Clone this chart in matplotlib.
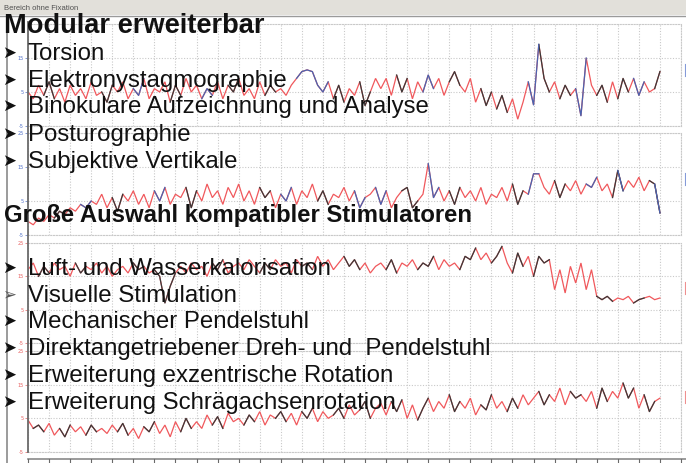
import numpy as np
import matplotlib
matplotlib.use("Agg")
import matplotlib.pyplot as plt
from matplotlib.lines import Line2D
from matplotlib.patches import Rectangle

# ---------------- data ----------------
window_title = "Bereich ohne Fixation"
heading_1 = "Modular erweiterbar"
items_1 = ["Torsion", "Elektronystagmographie", "Binokulare Aufzeichnung und Analyse",
           "Posturographie", "Subjektive Vertikale"]
heading_2 = "Große Auswahl kompatibler Stimulatoren"
items_2 = ["Luft- und Wasserkalorisation", "Visuelle Stimulation", "Mechanischer Pendelstuhl",
           "Direktangetriebener Dreh- und  Pendelstuhl", "Erweiterung exzentrische Rotation",
           "Erweiterung Schrägachsenrotation"]

y_ticks = [-5, 5, 15, 25]
y_ticks_first = [-5, 5, 15]
x_step = 0.25

panel1 = ([5, 3, 7, 4, 8, 3, 6, 2, 7, 4, 6, 3, 8, 4, 5, 2, 7, 5, 8, 3, 6, 4, 9, 3, 6, 5, 8, 2, 7, 4,
           9, 5, 7, 3, 6, 4, 8, 3, 7, 5, 9, 4, 6, 3, 8, 4, 7, 5, 6, 4, 7]
          + [9, 11, 11.5, 11, 7, 5]
          + [8, 3, 7, 2, 6, 4, 8, 1, 5, 9]
          + [6, 9, 4, 10, 5, 9, 3, 8, 5, 10, 6, 9, 4, 8, 11, 7, 5, 9, 2]
          + [6, 1, 5, 0, 4, -1, 3, -3, 2, 8]
          + [1.2, 19, 9]
          + [5, 8, 3, 7, 4, 6, -2]
          + [15, 7, 4]
          + [7, 2, 8, 3, 9, 5, 9, 4, 8, 5, 6, 11])
panel2 = ([-1, -2, 0, -1, 1, 0, 2, 1, 3, 2, 4, 3, 5]
          + [4, 7, 3, 6, 2, 7, 5, 8, 4, 7, 3, 8, 5, 9, 4, 7, 6, 9, 3, 8, 5, 10, 6, 8, 4, 9, 6, 10]
          + [5, 8, 4, 9, 6, 8, 3, 7, 5, 9, 4, 8, 6, 10, 5, 8, 4, 7, 6, 9, 5, 8, 3, 6, 7, 9, 4, 8,
             3, 6, 8, 9]
          + [3, 5, 7, 16]
          + [6, 9, 5, 8, 4, 9, 6, 8, 5, 9, 4, 7, 6, 9, 5, 10, 4, 8, 7]
          + [13, 13]
          + [9, 7, 11, 6, 10, 8, 11, 7, 10, 9, 12, 8, 10, 6]
          + [14, 8]
          + [11, 9, 12, 8, 11, 10]
          + [1.5])
panel3 = ([17, 19, 15, 18, 16, 19, 17, 18, 15, 19, 16, 18, 17, 19, 16, 18, 15, 17, 18, 16, 19, 17,
           18, 16, 17]
          + [15, 7, 12, 16]
          + [18, 16, 19, 17, 18, 15, 19, 17, 20, 16, 18, 19, 17, 20, 18, 16, 19, 17, 20, 18, 19, 16,
             20, 18, 19, 17, 21, 18, 20, 17, 19, 21, 18, 20, 17, 19, 16, 18]
          + [19, 17, 20, 16, 19, 18, 20, 17, 19, 18, 21, 17, 20, 18, 19, 17, 21, 20]
          + [23.5, 20, 22, 19, 21, 24, 19, 16, 22, 18, 21]
          + [15, 21, 19]
          + [20, 11, 17, 10, 18, 13, 19, 11, 17]
          + [9]
          + [8, 9, 7.5, 8.5, 8, 9, 7, 8, 8.5, 9, 8, 8.5])
panel4 = ([4.5, 2, 3, 1, 3.5, 0, 2, -0.5, 3, 1, 2.5, 0, 3, 1, 2, 0.5, 3]
          + [1, 3.5, 0, 2, -1, 2.5, 1, 4, 0.5, 3, -0.5, 4, 1, 5, 2, 4]
          + [2, 6, 3, 5.5, 2, 6.5, 4, 5, 3, 6, 4, 7, 3, 6, 5, 7]
          + [4, 6.5, 3, 7, 5, 8, 4, 7, 5, 6, 8, 5, 9, 6, 7.5, 10, 5, 8]
          + [9.5, 6, 10, 7, 10.5, 5, 9, 4.5, 8, 11, 7, 10, 8]
          + [12, 7, 10, 8, 11, 6, 9, 7.5, 12, 8, 10, 7, 11, 8, 12, 9, 11]
          + [13, 9, 12, 10, 14, 9, 13, 11, 12, 10, 13, 8, 14, 10, 13, 11]
          + [15.5, 11, 14, 8, 12, 7, 10, 11])

# index ranges of the trace drawn in dark grey / blue instead of red
p1_dark = [(3, 5), (14, 16), (27, 29), (38, 40), (45, 47), (58, 60), (63, 65), (70, 72), (80, 82),
           (86, 88), (89, 91), (97, 99), (101, 103), (108, 110), (112, 114), (119, 121)]
p1_blue = [(20, 22), (33, 35), (51, 57), (75, 77), (95, 97), (104, 106), (115, 117)]
p2_dark = [(5, 7), (16, 18), (30, 32), (44, 46), (55, 57), (71, 74), (80, 82), (92, 94),
           (100, 102), (111, 113), (118, 120)]
p2_blue = [(10, 12), (24, 26), (48, 50), (62, 64), (66, 68), (76, 78), (95, 97), (106, 108),
           (112, 113), (119, 121)]
p3_dark = [(2, 4), (9, 11), (20, 22), (24, 28), (35, 37), (44, 46), (52, 54), (60, 63), (68, 70),
           (74, 77), (82, 85), (88, 90), (92, 94), (96, 99), (108, 111), (115, 117)]
p3_blue = []
p4_dark = [(1, 3), (6, 8), (11, 13), (17, 19), (22, 24), (29, 31), (35, 37), (41, 43), (47, 49),
           (52, 54), (58, 60), (63, 65), (69, 71), (74, 76), (80, 82), (86, 88), (91, 93), (97, 99),
           (103, 105), (108, 110), (113, 115), (117, 119)]
p4_blue = []

# ---------------- figure ----------------
W, H = 686, 463
fig = plt.figure(figsize=(W / 100, H / 100), dpi=100)
fig.patch.set_facecolor("white")

def fx(px):
    return px / W

def fy(py):
    return 1 - py / H

RED = "#f0585c"
DARK = "#3a3a3a"
BLUE = "#4a64b0"
GRID = "#c9c9c9"

panels = [
    (panel1, p1_dark, p1_blue, 24, 126, "#5070c8", y_ticks_first),
    (panel2, p2_dark, p2_blue, 133, 235, "#5070c8", y_ticks),
    (panel3, p3_dark, p3_blue, 243, 343, "#e86060", y_ticks),
    (panel4, p4_dark, p4_blue, 351, 452, "#e86060", y_ticks),
]
left_px, right_px = 28, 681
for vals, dark, blue, top, bot, tcol, ticks in panels:
    ax = fig.add_axes([fx(left_px), fy(bot), fx(right_px - left_px), (bot - top) / H])
    ax.set_xlim(0, 31)
    ax.set_ylim(-5, 25)
    ax.set_facecolor("none")
    for s in ax.spines.values():
        s.set_color(GRID)
        s.set_linestyle((0, (1, 1.5)))
        s.set_linewidth(0.8)
    ax.spines["left"].set_visible(False)
    ax.set_xticks(np.arange(0, 32, 1))
    ax.set_xticklabels([])
    ax.tick_params(axis="x", length=0)
    ax.set_yticks(ticks)
    ax.set_yticklabels([str(t) for t in ticks], fontsize=3.5, color=tcol)
    ax.tick_params(axis="y", length=2, width=0.5, color=tcol, pad=1)
    ax.grid(True, color=GRID, linestyle=(0, (1, 1.5)), linewidth=0.8)
    v = np.array(vals, dtype=float)
    x = np.arange(len(v)) * x_step
    ax.plot(x, v, color=RED, lw=0.9, solid_joinstyle="miter")
    for a, b in dark:
        ax.plot(x[a:b + 1], v[a:b + 1], color=DARK, lw=0.9)
    for a, b in blue:
        ax.plot(x[a:b + 1], v[a:b + 1], color=BLUE, lw=0.9)
    # cut-off right-axis label marks at the picture edge
    mid = (top + bot) / 2 - 5
    fig.lines.append(Line2D([fx(685), fx(685)], [fy(mid - 6), fy(mid + 6)],
                            transform=fig.transFigure, color=tcol, lw=0.8, alpha=0.7))

# window title bar
fig.patches.append(Rectangle((0, fy(15)), 1, 15 / H, transform=fig.transFigure,
                             facecolor="#e2e0da", edgecolor="none", zorder=0.5))
fig.lines.append(Line2D([0, 1], [fy(15.5), fy(15.5)], transform=fig.transFigure,
                        color="#9a9a9a", lw=1))
fig.text(fx(4), fy(10), window_title, fontsize=5.5, color="#505050",
         family="Liberation Sans", va="baseline")

# frame lines and bottom axis
fig.lines.append(Line2D([fx(7), fx(7)], [fy(16), 0], transform=fig.transFigure,
                        color="#8a8a8a", lw=1.2))
fig.lines.append(Line2D([fx(28), fx(28)], [fy(22), fy(452)], transform=fig.transFigure,
                        color="#6a6a6a", lw=1.3))
fig.lines.append(Line2D([fx(28), 1], [fy(458.5), fy(458.5)], transform=fig.transFigure,
                        color="#8a8a8a", lw=1.2))
for k in range(32):
    px = left_px + k * (right_px - left_px) / 31
    fig.lines.append(Line2D([fx(px), fx(px)], [fy(458.5), fy(462)], transform=fig.transFigure,
                            color="#6a6a6a", lw=0.8))

# overlay text
FONT = "Liberation Sans"
fig.text(fx(4), fy(33), heading_1, fontsize=19.6, weight="bold", family=FONT,
         va="baseline", color="#111111")
fig.text(fx(4), fy(222), heading_2, fontsize=17.2, weight="bold", family=FONT,
         va="baseline", color="#111111")

base_1 = [60, 87, 113, 141, 168]
base_2 = [275, 302, 328, 355, 382, 409]
for label, b in zip(items_1 + items_2, base_1 + base_2):
    fig.text(fx(28), fy(b), label, fontsize=17.3, family=FONT, va="baseline", color="#111111")
    hollow = label.startswith("Visuelle")
    fig.text(fx(2), fy(b - 7), "➢" if hollow else "➤", fontsize=12,
             family=["DejaVu Sans"], va="center", ha="left",
             color="#555555" if hollow else "#111111")

fig.savefig("out.png", dpi=100)
